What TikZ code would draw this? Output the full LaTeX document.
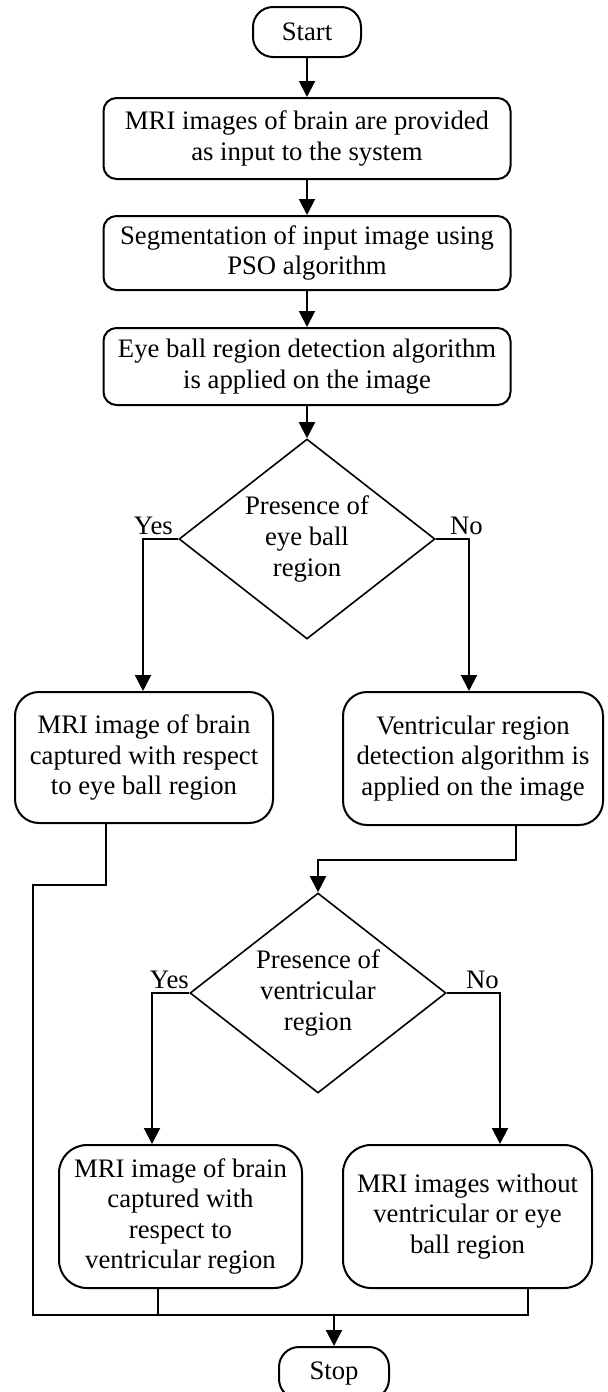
\documentclass[tikz,border=0pt]{standalone}
\usepackage{fontspec}
\setmainfont{Liberation Serif}
\usetikzlibrary{shapes.geometric,arrows.meta}

\begin{document}
\begin{tikzpicture}[x=0.5pt,y=-0.5pt,
    font=\fontsize{13.35}{15.3}\selectfont,
    every node/.style={align=center,inner sep=0pt},
    term/.style={draw,line width=1pt,rounded corners=10pt,minimum width=54pt,minimum height=25pt},
    proc/.style={draw,line width=1pt,rounded corners=6.5pt,minimum width=203.5pt},
    result/.style={draw,line width=1pt,rounded corners=12pt},
    decision/.style={draw,diamond,line width=0.8pt,aspect=1.29,minimum width=128pt,minimum height=100pt},
    arr/.style={line width=1pt,-{Triangle[length=8pt,width=8pt]}},
    link/.style={line width=1pt}]
\useasboundingbox (0,0) rectangle (608,1392);

\node[term] (start) at (307,32) {Start};
\node[proc,minimum height=40.5pt] (input) at (307,138.5) {MRI images of brain are provided\\as input to the system};
\node[proc,minimum height=37pt] (segment) at (307,253) {Segmentation of input image using\\PSO algorithm};
\node[proc,minimum height=38.5pt] (eyedetect) at (307,366.5) {Eye ball region detection algorithm\\is applied on the image};
\node[decision] (eyecheck) at (307,539) {Presence of\\eye ball\\region};
\node[result,minimum width=129pt,minimum height=65.5pt] (eyecapture) at (144,757.5) {MRI image of brain\\captured with respect\\to eye ball region};
\node[result,minimum width=130pt,minimum height=66.5pt] (ventdetect) at (473,758.5) {Ventricular region\\detection algorithm is\\applied on the image};
\node[decision] (ventcheck) at (318,993) {Presence of\\ventricular\\region};
\node[result,rounded corners=14pt,minimum width=121.5pt,minimum height=71.5pt] (ventcapture) at (180.5,1216.5) {MRI image of brain\\captured with\\respect to\\ventricular region};
\node[result,rounded corners=14pt,minimum width=124.5pt,minimum height=71.5pt] (noregion) at (467.5,1216.5) {MRI images without\\ventricular or eye\\ball region};
\node[term,minimum width=55pt,minimum height=26pt] (stop) at (334,1373) {Stop};

% yes / no labels
\node[anchor=base east] (yes1) at ([xshift=-2.5pt,yshift=2.5pt]eyecheck.west) {Yes};
\node[anchor=base west] (no1) at ([xshift=7pt,yshift=2.5pt]eyecheck.east) {No};
\node[anchor=base east] (yes2) at ([yshift=2.5pt]ventcheck.west) {Yes};
\node[anchor=base west] (no2) at ([xshift=9.5pt,yshift=2.5pt]ventcheck.east) {No};

\coordinate (eyejoin) at (106,885);
\coordinate (sidecorner) at (33,885);
\coordinate (ventjoin) at (516,860);
\coordinate (merge) at (334,1315);
\coordinate (rightjoin) at (528,1315);

\draw[arr] (start) -- (input);
\draw[arr] (input) -- (segment);
\draw[arr] (segment) -- (eyedetect);
\draw[arr] (eyedetect) -- (eyecheck);
\draw[arr] (eyecheck.west) -| ([xshift=-0.5pt]eyecapture.north);
\draw[arr] (eyecheck.east) -| ([xshift=-2pt]ventdetect.north);
\draw[arr] (ventdetect.south -| ventjoin) -- (ventjoin) -| (ventcheck.north);
\draw[arr] (ventcheck.west) -| ([xshift=-14.25pt]ventcapture.north);
\draw[arr] (ventcheck.east) -| ([xshift=16.25pt]noregion.north);
\draw[link] (eyecapture.south -| eyejoin) -- (eyejoin) -- (sidecorner) |- (rightjoin) -- (noregion.south -| rightjoin);
\draw[link] ([xshift=-11.25pt]ventcapture.south) -- ([xshift=-11.25pt]ventcapture.south |- merge);
\draw[arr] (merge) -- (stop);
\end{tikzpicture}
\end{document}
